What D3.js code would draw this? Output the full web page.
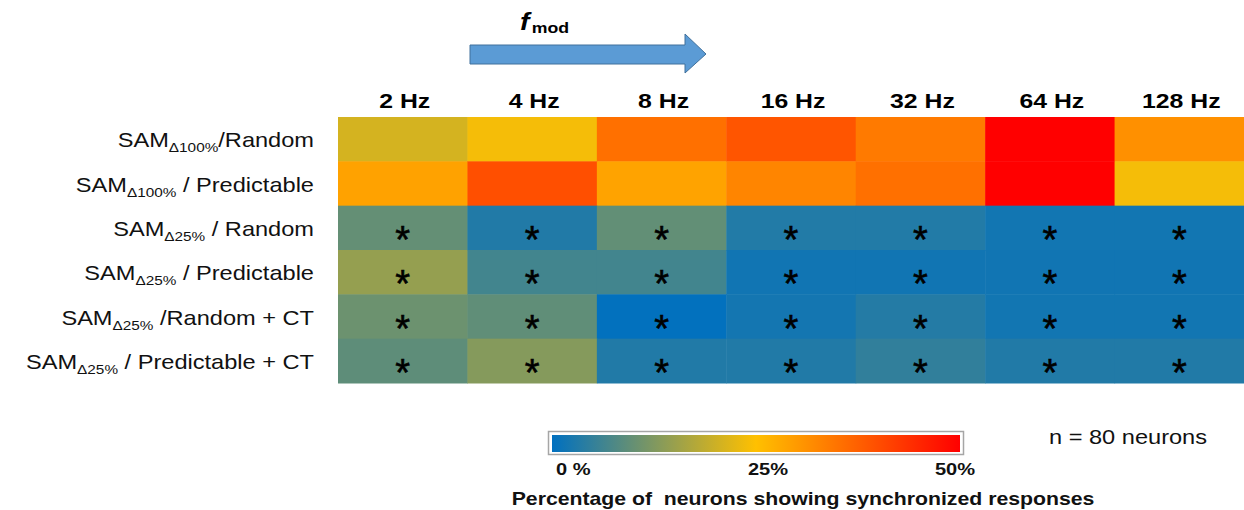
<!DOCTYPE html>
<html>
<head>
<meta charset="utf-8">
<script src="https://cdn.jsdelivr.net/npm/d3@7"></script>
<style>
  html, body { margin: 0; padding: 0; background: #fff; }
  svg { display: block; font-family: "Liberation Sans", Arial, sans-serif; }
</style>
</head>
<body>
<div id="chart"></div>
<script>
// modulation frequencies (columns)
const freqs = ["2 Hz", "4 Hz", "8 Hz", "16 Hz", "32 Hz", "64 Hz", "128 Hz"];

// row labels: SAM + subscript depth + condition
const rowSub = ["\u0394100%", "\u0394100%", "\u039425%", "\u039425%", "\u039425%", "\u039425%"];
const rowRest = ["/Random", " / Predictable", " / Random", " / Predictable", " /Random + CT", " / Predictable + CT"];

// % of neurons with synchronized responses, one array per row
const samFullRandom      = [20.8, 24.0, 35.4, 38.9, 34.1, 50.0, 31.3];
const samFullPredictable = [28.9, 39.7, 28.8, 32.7, 35.4, 50.0, 24.0];
const sam25Random        = [9.8, 3.2, 9.6, 3.3, 3.3, 1.8, 1.8];
const sam25Predictable   = [14.6, 6.5, 6.5, 1.7, 1.7, 1.7, 1.7];
const sam25RandomCT      = [10.6, 9.4, 0.2, 2.0, 3.5, 1.8, 1.8];
const sam25PredictCT     = [9.2, 13.0, 3.2, 3.2, 4.8, 3.2, 3.2];

// significant difference vs. the Δ100% conditions (asterisk)
const rowSignif = [false, false, true, true, true, true];

const colorTicks = [0, 25, 50];
const colorTickLabels = ["0 %", "25%", "50%"];

const W = 1244, H = 510;
const SX = 1.18; // the original slide text is stretched horizontally
const rows = [samFullRandom, samFullPredictable, sam25Random, sam25Predictable, sam25RandomCT, sam25PredictCT];

const svg = d3.select("#chart").append("svg")
  .attr("width", W).attr("height", H);

const at = (x, y) => `translate(${x},${y}) scale(${SX},1)`;

const x = d3.scaleBand().domain(d3.range(freqs.length)).range([338, 1244]).padding(0);
const y = d3.scaleBand().domain(d3.range(rows.length)).range([117, 383]).padding(0);

const color = d3.scaleLinear()
  .domain(colorTicks)
  .range(["#0070c0", "#ffc000", "#ff0000"])
  .interpolate(d3.interpolateRgb);

// cells
const cells = rows.flatMap((vals, r) => vals.map((v, c) => ({ r, c, v, sig: rowSignif[r] })));

svg.append("g").selectAll("rect")
  .data(cells)
  .join("rect")
  .attr("x", d => x(d.c))
  .attr("y", d => y(d.r))
  .attr("width", x.bandwidth() + 0.5)
  .attr("height", y.bandwidth() + 0.5)
  .attr("fill", d => color(d.v));

svg.append("g").selectAll("text")
  .data(cells.filter(d => d.sig))
  .join("text")
  .attr("x", d => x(d.c) + x.bandwidth() / 2)
  .attr("y", d => y(d.r) + y.bandwidth() / 2 + 25)
  .attr("text-anchor", "middle")
  .attr("font-size", 38)
  .attr("fill", "#000")
  .attr("stroke", "#000")
  .attr("stroke-width", 0.6)
  .text("*");

// column headers
svg.append("g").selectAll("text")
  .data(freqs)
  .join("text")
  .attr("transform", (d, i) => at(x(i) + x.bandwidth() / 2 + 2, 108))
  .attr("text-anchor", "middle")
  .attr("font-size", 21)
  .attr("font-weight", "bold")
  .attr("fill", "#000")
  .text(d => d);

// row labels
const rl = svg.append("g").selectAll("text")
  .data(rowRest)
  .join("text")
  .attr("transform", (d, i) => at(314, y(i) + y.bandwidth() / 2 + 8))
  .attr("text-anchor", "end")
  .attr("font-size", 20)
  .attr("fill", "#111");
rl.append("tspan").text("SAM");
rl.append("tspan").attr("font-size", 13).attr("dy", 5).text((d, i) => rowSub[i]);
rl.append("tspan").attr("dy", -5).text(d => d);

// f_mod arrow
const arrow = d3.path();
arrow.moveTo(470, 45);
arrow.lineTo(685, 45);
arrow.lineTo(685, 34);
arrow.lineTo(706, 54);
arrow.lineTo(685, 73);
arrow.lineTo(685, 64);
arrow.lineTo(470, 64);
arrow.closePath();
svg.append("path").attr("d", arrow.toString())
  .attr("fill", "#5b9bd5").attr("stroke", "#41719c").attr("stroke-width", 1);

const fm = svg.append("text").attr("transform", at(520, 30))
  .attr("font-weight", "bold").attr("fill", "#000");
fm.append("tspan").attr("font-size", 24).attr("font-style", "italic").text("f");
fm.append("tspan").attr("font-size", 15).attr("dy", 3).attr("dx", 2).text("mod");

// colour bar
const cbX = d3.scaleLinear().domain([0, 50]).range([552, 960]);
const grad = svg.append("defs").append("linearGradient").attr("id", "cbar")
  .attr("x1", "0%").attr("x2", "100%");
grad.selectAll("stop")
  .data(d3.range(0, 51, 5))
  .join("stop")
  .attr("offset", d => (d / 50 * 100) + "%")
  .attr("stop-color", d => color(d));

svg.append("rect").attr("x", cbX(0) - 3.5).attr("y", 431.5)
  .attr("width", cbX(50) - cbX(0) + 7).attr("height", 23)
  .attr("fill", "#fff").attr("stroke", "#a6a6a6").attr("stroke-width", 1.5);
svg.append("rect").attr("x", cbX(0)).attr("y", 435)
  .attr("width", cbX(50) - cbX(0)).attr("height", 17)
  .attr("fill", "url(#cbar)");

const tickAnchor = ["start", "middle", "end"];
const tickShift = [4, 12, 15];
svg.append("g").selectAll("text")
  .data(colorTicks)
  .join("text")
  .attr("transform", (d, i) => at(cbX(d) + tickShift[i], 475))
  .attr("text-anchor", (d, i) => tickAnchor[i])
  .attr("font-size", 17)
  .attr("font-weight", "bold")
  .attr("fill", "#111")
  .text((d, i) => colorTickLabels[i]);

svg.append("text").attr("transform", at(803, 505))
  .attr("text-anchor", "middle")
  .attr("font-size", 18).attr("font-weight", "bold").attr("fill", "#111")
  .attr("xml:space", "preserve")
  .text("Percentage of  neurons showing synchronized responses");

svg.append("text").attr("transform", at(1128, 444))
  .attr("text-anchor", "middle")
  .attr("font-size", 20).attr("fill", "#111")
  .text("n = 80 neurons");
</script>
</body>
</html>
